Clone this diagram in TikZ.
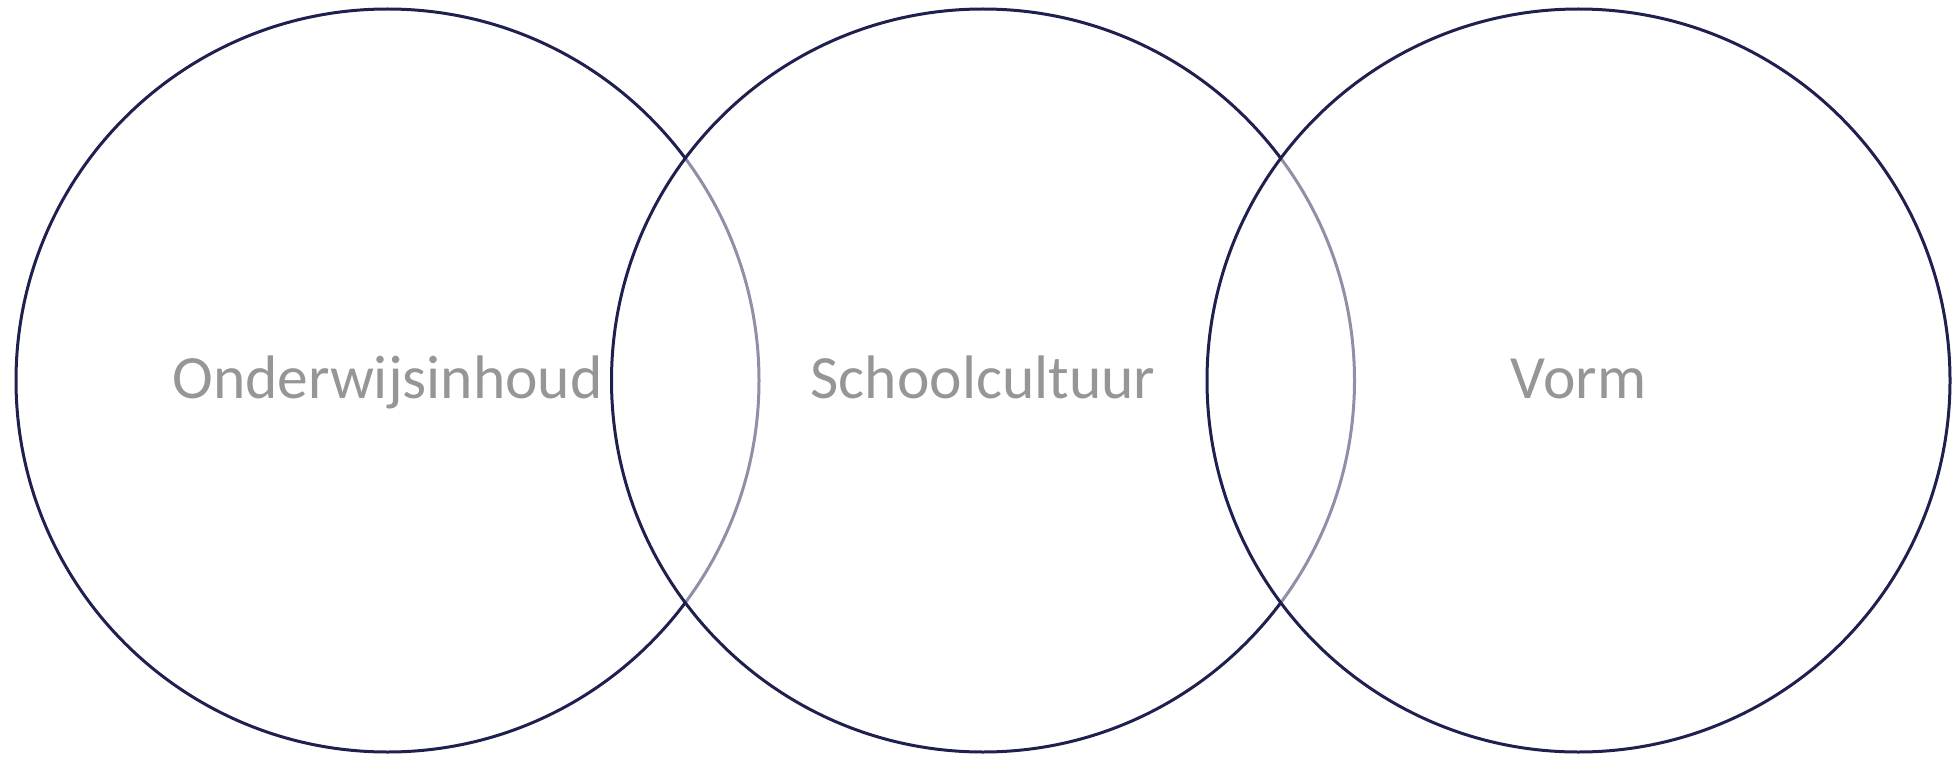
\documentclass[tikz,border=0pt]{standalone}
\usepackage{fontspec}
\setmainfont{Carlito}
\definecolor{navy}{RGB}{31,32,80}
\definecolor{labelgray}{RGB}{150,150,150}
\begin{document}
\begin{tikzpicture}[x=1pt,y=-1pt,
  venn/.style={circle, draw=navy, line width=3pt, fill=white, fill opacity=0.5, draw opacity=1, minimum size=743pt, inner sep=0pt, outer sep=0pt},
  vlabel/.style={anchor=base, text=labelgray, font=\fontsize{61.5}{70}\selectfont, inner sep=0pt}]
\useasboundingbox (0,0) rectangle (1952,757);
\node[venn] (c1) at (387.5,380.5) {};
\node[venn] (c2) at (983,380.5) {};
\node[venn] (c3) at (1578.5,380.5) {};
\node[vlabel] (t1) at (387.5,398) {Onderwijsinhoud};
\node[vlabel] (t2) at (983,398) {Schoolcultuur};
\node[vlabel] (t3) at (1578.5,398) {Vorm};
\end{tikzpicture}
\end{document}
